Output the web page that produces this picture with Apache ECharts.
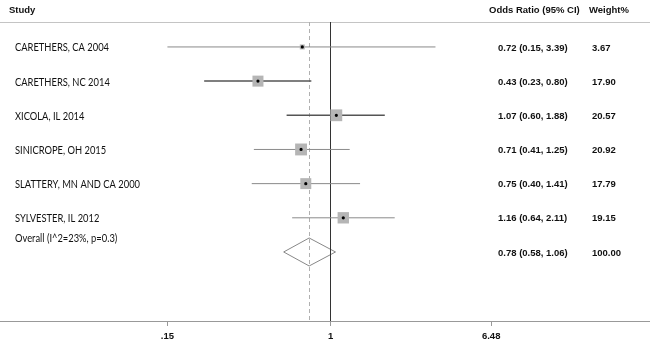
<!DOCTYPE html>
<html><head><meta charset="utf-8">
<script src="https://cdn.jsdelivr.net/npm/echarts@6/dist/echarts.min.js"></script>
<style>html,body{margin:0;padding:0;background:#fff}#c{width:650px;height:354px}</style>
</head><body><div id="c"></div>
<script>
// ---- data ----
var studies = ['CARETHERS, CA 2004','CARETHERS, NC 2014','XICOLA, IL 2014','SINICROPE, OH 2015','SLATTERY, MN AND CA 2000','SYLVESTER, IL 2012'];
var oddsRatios = [0.72, 0.43, 1.07, 0.71, 0.75, 1.16];
var ciLow = [0.15, 0.23, 0.60, 0.41, 0.40, 0.64];
var ciHigh = [3.39, 0.80, 1.88, 1.25, 1.41, 2.11];
var weights = ['3.67','17.90','20.57','20.92','17.79','19.15'];
var overallLabel = 'Overall (I^2=23%, p=0.3)';
var overallOR = 0.78, overallLow = 0.58, overallHigh = 1.06, overallWeight = '100.00';
var tickValues = [0.15, 1, 6.48];
var tickLabels = ['.15', '1', '6.48'];
var headers = ['Study', 'Odds Ratio (95% CI)', 'Weight%'];

// ---- styles ----
var darkRows = [1, 2];
var ln = Math.log;
function fmt(v){ return v.toFixed(2); }

var rowData = studies.map(function(s, i){
  return [ln(ciLow[i]), ln(ciHigh[i]), ln(oddsRatios[i]), i, parseFloat(weights[i])];
});
var tickLn = tickValues.map(ln);

var numFont = {fontFamily:'Liberation Sans, Arial', fontWeight:'bold', fontSize:9.5, fill:'#111'};
var nameFont = {fontFamily:'Lato', fontSize:11, fill:'#111'};
var nameScale = 0.85;

var chart = echarts.init(document.getElementById('c'), null, {renderer:'canvas'});
chart.setOption({
  animation:false,
  backgroundColor:'#fff',
  grid:{left:0, right:0, top:22, bottom:33},
  xAxis:[{
    type:'value', min:ln(0.0214), max:ln(41.1), position:'bottom',
    axisLine:{show:true, onZero:false, lineStyle:{color:'#999', width:1}},
    axisTick:{show:true, customValues:tickLn, length:5, lineStyle:{color:'#999'}},
    axisLabel:{show:true, customValues:tickLn, margin:10, fontFamily:'Liberation Sans, Arial', fontWeight:'bold', fontSize:9.5, color:'#111',
      formatter:function(v){ for(var i=0;i<tickLn.length;i++){ if(Math.abs(tickLn[i]-v)<1e-6) return tickLabels[i]; } return ''; }},
    splitLine:{show:false}
  },{
    type:'value', min:ln(0.0214), max:ln(41.1), position:'top',
    axisLine:{show:true, onZero:false, lineStyle:{color:'#c4c4c4', width:1}},
    axisTick:{show:false}, axisLabel:{show:false}, splitLine:{show:false}
  }],
  yAxis:{type:'value', inverse:true, min:-0.73, max:8.02, show:false},
  graphic:[
    {type:'text', left:9, top:5, style:{text:headers[0], font:'bold 9.5px "Liberation Sans", Arial', fill:'#111'}},
    {type:'text', left:489, top:5, style:{text:headers[1], font:'bold 9.5px "Liberation Sans", Arial', fill:'#111'}},
    {type:'text', left:589, top:5, style:{text:headers[2], font:'bold 9.5px "Liberation Sans", Arial', fill:'#111'}}
  ],
  series:[
    {
      type:'custom', xAxisIndex:0, data:rowData, z:5,
      renderItem:function(params, api){
        var i = api.value(3);
        var lo = api.coord([api.value(0), i]);
        var hi = api.coord([api.value(1), i]);
        var c = api.coord([api.value(2), i]);
        var side = 2.6*Math.sqrt(api.value(4));
        var dark = darkRows.indexOf(i) >= 0;
        return {type:'group', children:[
          {type:'line', shape:{x1:lo[0], y1:lo[1], x2:hi[0], y2:hi[1]}, style:{stroke: dark?'#555':'#8a8a8a', lineWidth: dark?1.5:1}},
          {type:'rect', shape:{x:c[0]-side/2, y:c[1]-side/2, width:side, height:side}, style:{fill:'#b5b5b5'}},
          {type:'circle', shape:{cx:c[0], cy:c[1], r:1.6}, style:{fill:'#000'}},
          {type:'text', x:15, y:c[1]+1, scaleX:nameScale, style:Object.assign({text:studies[i], verticalAlign:'middle'}, nameFont)},
          {type:'text', x:498, y:c[1]+1, style:Object.assign({text:fmt(oddsRatios[i])+' ('+fmt(ciLow[i])+', '+fmt(ciHigh[i])+')', verticalAlign:'middle'}, numFont)},
          {type:'text', x:592, y:c[1]+1, style:Object.assign({text:weights[i], verticalAlign:'middle'}, numFont)}
        ]};
      }
    },
    {
      type:'custom', xAxisIndex:0, data:[[ln(overallLow), ln(overallHigh), ln(overallOR), studies.length]], z:4,
      renderItem:function(params, api){
        var r = api.value(3);
        var lo = api.coord([api.value(0), r]);
        var hi = api.coord([api.value(1), r]);
        var c = api.coord([api.value(2), r]);
        return {type:'group', children:[
          {type:'polygon', shape:{points:[[lo[0],c[1]],[c[0],c[1]-14],[hi[0],c[1]],[c[0],c[1]+14]]}, style:{fill:'rgba(255,255,255,0)', stroke:'#888', lineWidth:1}},
          {type:'text', x:15, y:c[1]-14, scaleX:nameScale, style:Object.assign({text:overallLabel, verticalAlign:'middle'}, nameFont)},
          {type:'text', x:498, y:c[1]+1, style:Object.assign({text:fmt(overallOR)+' ('+fmt(overallLow)+', '+fmt(overallHigh)+')', verticalAlign:'middle'}, numFont)},
          {type:'text', x:592, y:c[1]+1, style:Object.assign({text:overallWeight, verticalAlign:'middle'}, numFont)}
        ]};
      }
    },
    {
      type:'line', xAxisIndex:0, data:[], silent:true,
      markLine:{symbol:'none', silent:true, label:{show:false},
        data:[
          {xAxis:0, lineStyle:{color:'#333', width:1, type:'solid'}},
          {xAxis:ln(overallOR), lineStyle:{color:'#b0b0b0', width:1, type:[4,3]}}
        ]}
    }
  ]
});
</script></body></html>
